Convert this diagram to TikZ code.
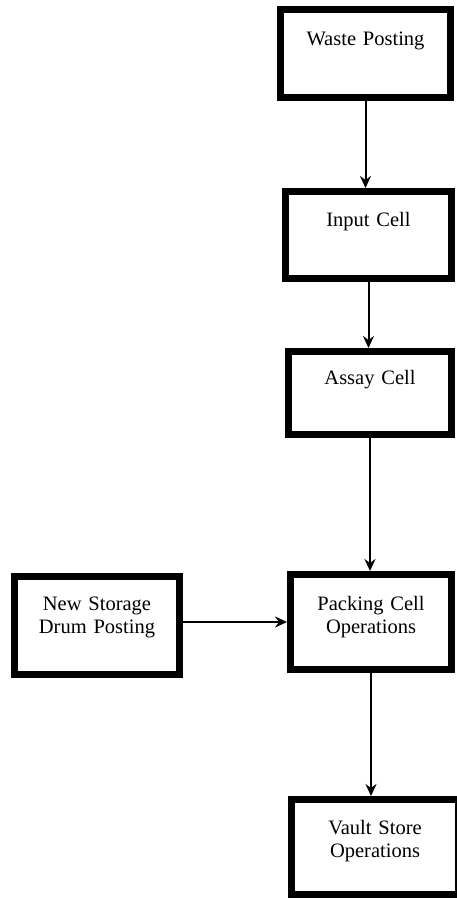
\documentclass[tikz,border=0pt]{standalone}
\usepackage{fontspec}
\setmainfont{Liberation Serif}
\usepackage{tikz}
\usetikzlibrary{arrows.meta,positioning}

\tikzset{
  stagebox/.style={draw, line width=7pt, inner sep=0pt, align=center, text width=150pt,
    font=\fontsize{20.5}{23}\selectfont, text height=15pt},
  flow/.style={-{Stealth[length=12pt,width=11pt,inset=4pt]}, line width=2pt}
}

\begin{document}
\begin{tikzpicture}[x=1pt, y=-1pt]
  \useasboundingbox (0,0) rectangle (457,898);
  \node[stagebox, minimum width=170pt, minimum height=88pt, text depth=32pt] (waste) at (365.5,53.5) {Waste Posting};
  \node[stagebox, minimum width=166pt, minimum height=87pt, text depth=32pt] (input) at (368.5,235) {Input Cell};
  \node[stagebox, minimum width=163pt, minimum height=83pt, text depth=32pt] (assay) at (370,393) {Assay Cell};
  \node[stagebox, minimum width=161pt, minimum height=95pt, text depth=39pt] (packing) at (371,622) {Packing Cell\\Operations};
  \node[stagebox, minimum width=167pt, minimum height=95pt, text depth=41pt] (vault) at (375,847) {Vault Store\\Operations};
  \node[stagebox, minimum width=165pt, minimum height=98pt, text depth=46pt] (newdrum) at (97,625.5) {New Storage\\Drum Posting};

  \draw[flow] (waste.south) -- (waste.south |- input.north);
  \draw[flow] (input.south) -- (input.south |- assay.north);
  \draw[flow] (assay.south) -- (assay.south |- packing.north);
  \draw[flow] (packing.south) -- (packing.south |- vault.north);
  \draw[flow] (newdrum.east |- packing) -- (packing.west);
\end{tikzpicture}
\end{document}
